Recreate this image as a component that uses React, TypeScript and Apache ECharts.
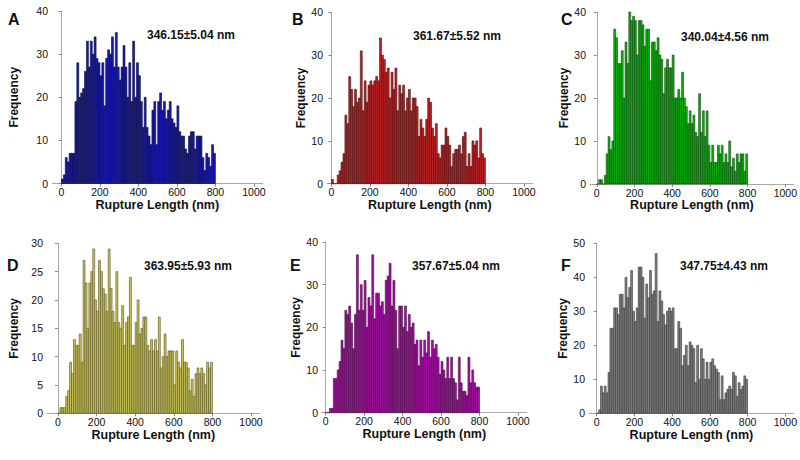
import React, { useEffect, useRef } from "react";
import * as echarts from "echarts";

// Histogram counts per 10 nm bin (0–800 nm)
const countsA = [1,2,6,5,7,7,7,19,28,20, 21,22,26,33,27,33,30,34,29,28, 25,28,18,29,31,30,34,27,35,27, 24,27,32,27,20,28,19,33,20,28, 25,19,13,20,13,11,9,17,19,9, 19,21,17,19,15,17,19,15,14,13, 18,12,11,11,8,7,11,12,12,8, 11,11,11,6,3,7,6,4,9,7];
const countsB = [1,0,0,2,3,5,7,16,14,25, 22,18,22,19,20,31,17,24,19,23, 24,23,24,25,24,34,30,29,26,27, 20,26,22,27,17,23,21,23,17,20, 22,17,20,20,18,11,15,13,11,15, 20,19,13,11,14,7,6,9,9,13, 11,9,4,7,8,8,9,7,11,12, 4,7,4,10,9,10,6,13,7,6];
const countsC = [0,1,1,0,2,7,11,8,10,36, 34,28,28,31,20,33,28,40,38,39, 38,30,38,38,37,32,36,36,24,33, 33,31,34,30,29,21,27,29,27,27, 30,20,20,22,20,26,20,18,14,17, 14,16,12,11,21,12,17,11,17,9, 5,9,5,5,9,7,9,5,7,5, 10,4,6,3,7,5,7,7,3,7];
const countsD = [0,1,1,1,3,4,9,7,13,12, 12,14,9,27,23,15,23,25,29,20, 18,27,25,22,21,18,29,22,18,16, 25,16,15,19,12,16,17,24,12,12, 16,20,14,15,17,17,12,11,13,11, 13,11,17,8,10,14,10,11,11,11, 5,11,9,8,13,9,9,8,4,6, 3,7,8,7,8,7,5,9,8,9];
const countsE = [0,0,1,1,8,8,10,12,17,15, 24,23,25,21,15,23,37,24,30,24, 31,20,27,25,37,22,28,28,25,26, 23,31,32,35,25,31,24,15,25,25, 20,25,19,23,20,21,16,17,11,17, 13,17,14,19,13,17,15,16,13,9, 12,10,8,13,8,13,8,7,3,13, 7,5,5,4,13,7,10,7,6,6];
const countsF = [0,1,8,6,8,6,12,25,25,31, 31,29,35,35,31,40,34,37,42,30, 27,31,43,43,40,28,38,34,42,35, 36,47,27,36,33,29,26,30,31,30, 31,19,19,27,25,14,17,20,14,21, 20,19,9,20,10,19,16,10,15,10, 15,16,14,13,12,4,11,4,6,7, 8,7,12,11,5,9,7,8,11,10];

const binWidth = 10;
const xTicks = [0, 200, 400, 600, 800, 1000];
const yTicksA = [0, 10, 20, 30, 40];
const yTicksB = [0, 10, 20, 30, 40];
const yTicksC = [0, 10, 20, 30, 40];
const yTicksD = [0, 5, 10, 15, 20, 25, 30];
const yTicksE = [0, 10, 20, 30, 40];
const yTicksF = [0, 10, 20, 30, 40, 50];
const letters = ["A", "B", "C", "D", "E", "F"];
const notes = ["346.15±5.04 nm", "361.67±5.52 nm", "340.04±4.56 nm", "363.95±5.93 nm", "357.67±5.04 nm", "347.75±4.43 nm"];

const XMAX = 1045;
const panels = [
  { counts: countsA, yTicks: yTicksA, fill: "#1a1ab2", stroke: "#06063e", left: 52, top: 11, width: 210.6, height: 172.5, xmin: -49, fgap: 32, letter: [8, 20], note: [147, 37] },
  { counts: countsB, yTicks: yTicksB, fill: "#c02428", stroke: "#440a0a", left: 327, top: 12.3, width: 205.6, height: 171.4, xmin: -23, fgap: 14, letter: [292, 20], note: [413, 38] },
  { counts: countsC, yTicks: yTicksC, fill: "#12b212", stroke: "#084408", left: 590, top: 12, width: 208.6, height: 172, xmin: -36, fgap: 13, letter: [561, 20], note: [681, 39] },
  { counts: countsD, yTicks: yTicksD, fill: "#cbc55a", stroke: "#555020", left: 47, top: 243.3, width: 212.7, height: 170, xmin: -57, fgap: 27, letter: [7, 266], note: [144, 268] },
  { counts: countsE, yTicks: yTicksE, fill: "#a412a4", stroke: "#44063f", left: 322, top: 242, width: 204.6, height: 170.7, xmin: -19, fgap: 14, letter: [290, 266], note: [412, 268] },
  { counts: countsF, yTicks: yTicksF, fill: "#828282", stroke: "#363636", left: 589, top: 243.3, width: 209.6, height: 170, xmin: -41, fgap: 13, letter: [561, 266], note: [680, 268] },
];

const FONT = "Liberation Sans, Arial, sans-serif";

export default function App() {
  const ref = useRef<HTMLDivElement>(null);
  useEffect(() => {
    if (!ref.current) return;
    const chart = echarts.init(ref.current, null, { renderer: "svg" });
    const grid: any[] = [];
    const xAxis: any[] = [];
    const yAxis: any[] = [];
    const series: any[] = [];
    const graphic: any[] = [];
    panels.forEach((p, i) => {
      const ymax = p.yTicks[p.yTicks.length - 1];
      grid.push({ left: p.left, top: p.top, width: p.width, height: p.height, containLabel: false });
      xAxis.push({
        type: "value", gridIndex: i, min: p.xmin, max: XMAX,
        name: "Rupture Length (nm)", nameLocation: "middle", nameGap: 13,
        nameTextStyle: { fontFamily: FONT, fontWeight: "bold", fontSize: 12.5, color: "#111" },
        axisLine: { show: true, lineStyle: { color: "#a8a8a8", width: 1 } },
        axisTick: { show: true, length: 3, inside: false, customValues: xTicks, lineStyle: { color: "#888" } },
        axisLabel: { customValues: xTicks, formatter: (v: number) => String(v), fontFamily: FONT, fontSize: 10.5, color: "#111", margin: 3 },
        splitLine: { show: false },
      });
      yAxis.push({
        type: "value", gridIndex: i, min: 0, max: ymax,
        name: "Frequency", nameLocation: "middle", nameRotate: 90, nameGap: p.fgap,
        nameTextStyle: { fontFamily: FONT, fontWeight: "bold", fontSize: 12, color: "#111" },
        axisLine: { show: true, lineStyle: { color: "#a8a8a8", width: 1 } },
        axisTick: { show: true, length: 3, customValues: p.yTicks, lineStyle: { color: "#888" } },
        axisLabel: { customValues: p.yTicks, formatter: (v: number) => String(v), fontFamily: FONT, fontSize: 10.5, color: "#111", margin: 4 },
        splitLine: { show: false },
      });
      series.push({
        type: "custom", xAxisIndex: i, yAxisIndex: i,
        encode: { x: 0, y: 1 },
        data: p.counts.map((c, k) => [k * binWidth, c]),
        renderItem: (params: any, api: any) => {
          const x0 = api.value(0);
          const v = api.value(1);
          const a = api.coord([x0, v]);
          const b = api.coord([x0 + binWidth, 0]);
          return {
            type: "rect",
            shape: { x: a[0], y: a[1], width: b[0] - a[0], height: b[1] - a[1] },
            style: { fill: p.fill, stroke: p.stroke, lineWidth: 0.6 },
          };
        },
      });
      graphic.push({
        type: "text", left: p.letter[0], top: p.letter[1] - 9,
        style: { text: letters[i], fontFamily: FONT, fontWeight: "bold", fontSize: 16, fill: "#111" },
      });
      graphic.push({
        type: "text", left: p.note[0], top: p.note[1] - 8,
        style: { text: notes[i], fontFamily: FONT, fontWeight: "bold", fontSize: 12, fill: "#111" },
      });
    });
    chart.setOption({
      animation: false,
      backgroundColor: "#ffffff",
      grid, xAxis, yAxis, series, graphic,
    });
    return () => chart.dispose();
  }, []);
  return <div ref={ref} style={{ position: "fixed", left: 0, top: 0, width: 800, height: 460 }} />;
}
